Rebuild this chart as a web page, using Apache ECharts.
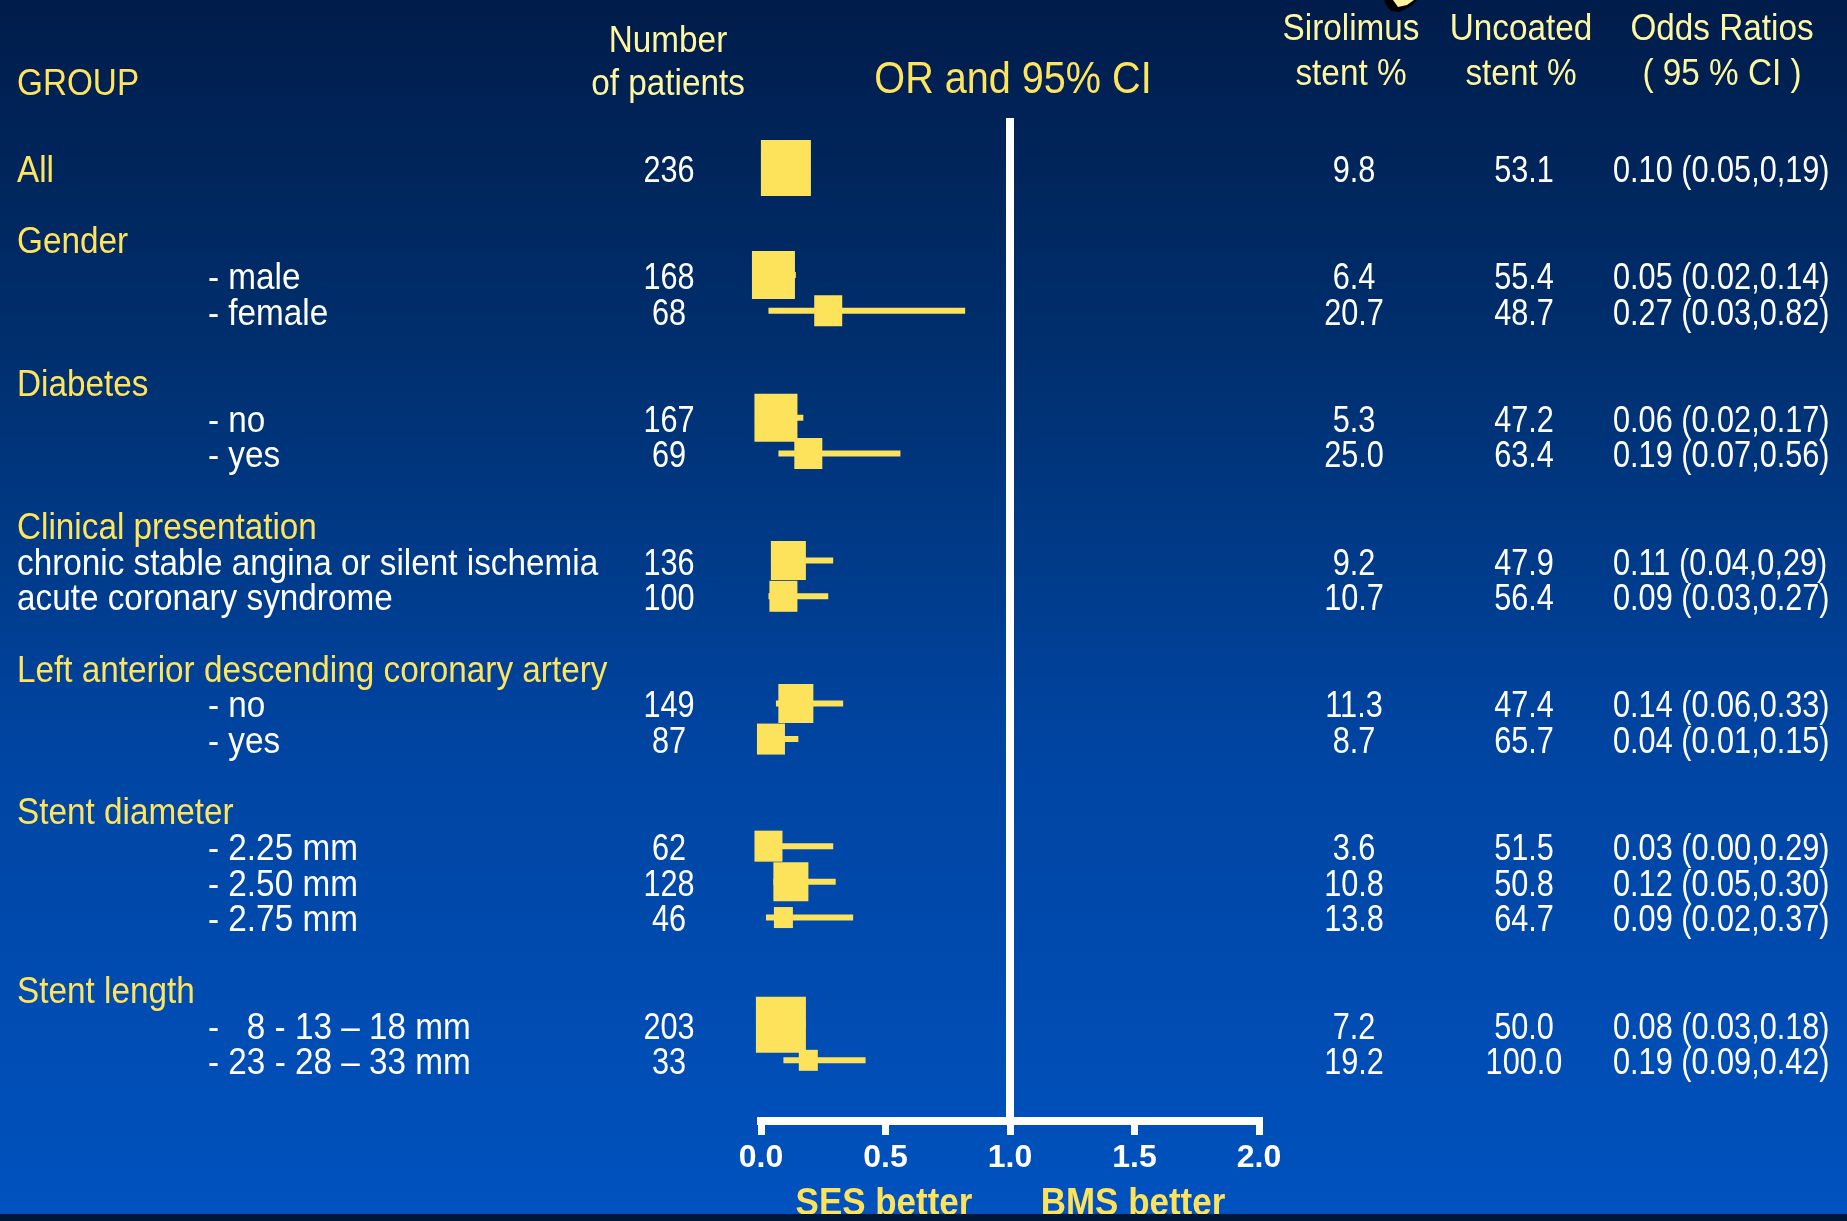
<!DOCTYPE html>
<html>
<head>
<meta charset="utf-8">
<title>Sirolimus vs uncoated stent – odds ratios by subgroup</title>
<script src="https://cdn.jsdelivr.net/npm/echarts@6/dist/echarts.min.js"></script>
<style>
  html, body { margin: 0; padding: 0; background: #002a66; }
  #chart { width: 1847px; height: 1221px; }
</style>
</head>
<body>
<div id="chart"></div>
<script>
// ---- data ----------------------------------------------------------------
const groupTitles = ['', 'Gender', 'Diabetes', 'Clinical presentation',
  'Left anterior descending coronary artery', 'Stent diameter', 'Stent length'];
const rowGroup = [0, 1, 1, 2, 2, 3, 3, 4, 4, 5, 5, 5, 6, 6];
const rowLabels = ['All', '- male', '- female', '- no', '- yes',
  'chronic stable angina or silent ischemia', 'acute coronary syndrome',
  '- no', '- yes', '- 2.25 mm', '- 2.50 mm', '- 2.75 mm',
  '-   8 - 13 \u2013 18 mm', '- 23 - 28 \u2013 33 mm'];
const patients = [236, 168, 68, 167, 69, 136, 100, 149, 87, 62, 128, 46, 203, 33];
const sirolimusPct = [9.8, 6.4, 20.7, 5.3, 25.0, 9.2, 10.7, 11.3, 8.7, 3.6, 10.8, 13.8, 7.2, 19.2];
const uncoatedPct = [53.1, 55.4, 48.7, 47.2, 63.4, 47.9, 56.4, 47.4, 65.7, 51.5, 50.8, 64.7, 50.0, 100.0];
const oddsRatio = [0.10, 0.05, 0.27, 0.06, 0.19, 0.11, 0.09, 0.14, 0.04, 0.03, 0.12, 0.09, 0.08, 0.19];
const ciLow = [0.05, 0.02, 0.03, 0.02, 0.07, 0.04, 0.03, 0.06, 0.01, 0.00, 0.05, 0.02, 0.03, 0.09];
const ciHigh = [0.19, 0.14, 0.82, 0.17, 0.56, 0.29, 0.27, 0.33, 0.15, 0.29, 0.30, 0.37, 0.18, 0.42];
const orLabels = ['0.10 (0.05,0,19)', '0.05 (0.02,0.14)', '0.27 (0.03,0.82)',
  '0.06 (0.02,0.17)', '0.19 (0.07,0.56)', '0.11 (0.04,0,29)',
  '0.09 (0.03,0.27)', '0.14 (0.06,0.33)', '0.04 (0.01,0.15)', '0.03 (0.00,0.29)',
  '0.12 (0.05,0.30)', '0.09 (0.02,0.37)', '0.08 (0.03,0.18)', '0.19 (0.09,0.42)'];
const axisTickValues = [0, 0.5, 1, 1.5, 2];

// ---- layout: one slot per text line, a blank slot between groups --------
const rowSlot = [];
const headerRows = [];
let slot = 0;
groupTitles.forEach((title, g) => {
  if (g > 0) slot += 1;
  if (title) headerRows.push([title, slot++]);
  rowGroup.forEach((rg, i) => { if (rg === g) rowSlot[i] = slot++; });
});

// ---- styles ----------------------------------------------------------------
const YELLOW = '#FDE25C';
const TITLE_YELLOW = '#FFE45E';
const PALE_YELLOW = '#FFF7A0';
const WHITE = '#FFFFFF';
const SANS = '"Liberation Sans", Arial, sans-serif';
const LABEL_FONT = '36px ' + SANS;
const LABEL_SX = 0.925;         // condensed look for the text columns
const NUM_FONT = '36px ' + SANS;
const NUM_SX = 0.852;
const DY = 4;                   // optical centring of text on its row

const COL_LABEL = 17, COL_INDENT = 208, COL_N = 669, COL_SES = 1354, COL_BMS = 1524, COL_OR = 1613;

// square size grows with the number of patients in the subgroup
function boxWidth(n) {
  if (n >= 200) return 50;
  if (n >= 160) return 43;
  if (n >= 120) return 35;
  if (n >= 50) return 28;
  return 19;
}

const chart = echarts.init(document.getElementById('chart'), null, { renderer: 'canvas' });

const forestData = oddsRatio.map((or, i) => [or, rowSlot[i], ciLow[i], ciHigh[i], patients[i]]);
const tableData = rowLabels.map((lab, i) => [0, rowSlot[i], i]);
const headerData = headerRows.map(([t, s], i) => [0, s, i]);

function textEl(x, y, text, font, fill, align, sx) {
  return { type: 'text', x: x, y: y + DY, scaleX: sx || 1,
    style: { text: text, font: font, fill: fill, align: align || 'left', verticalAlign: 'middle' } };
}
function headEl(x, y, text, font, fill, align, sx) {
  const el = textEl(x, y, text, font, fill, align, sx);
  el.z = 5;
  return el;
}

const option = {
  animation: false,
  graphic: [
    { type: 'rect', z: -10, shape: { x: 0, y: 0, width: 1847, height: 1221 },
      style: { fill: new echarts.graphic.LinearGradient(0, 0, 0, 1, [
        { offset: 0, color: '#001C4A' },
        { offset: 0.3, color: '#003070' },
        { offset: 0.6, color: '#0044A0' },
        { offset: 1, color: '#0052BF' }]) } },
    // column headings
    headEl(COL_LABEL, 81, 'GROUP', LABEL_FONT, TITLE_YELLOW, 'left', LABEL_SX),
    headEl(668, 38, 'Number', LABEL_FONT, PALE_YELLOW, 'center', LABEL_SX),
    headEl(668, 81, 'of patients', LABEL_FONT, PALE_YELLOW, 'center', LABEL_SX),
    headEl(1013, 77, 'OR and 95% CI', '44px ' + SANS, TITLE_YELLOW, 'center', 0.9),
    headEl(1351, 26, 'Sirolimus', LABEL_FONT, PALE_YELLOW, 'center', LABEL_SX),
    headEl(1351, 71, 'stent %', LABEL_FONT, PALE_YELLOW, 'center', LABEL_SX),
    headEl(1521, 26, 'Uncoated', LABEL_FONT, PALE_YELLOW, 'center', LABEL_SX),
    headEl(1521, 71, 'stent %', LABEL_FONT, PALE_YELLOW, 'center', LABEL_SX),
    headEl(1722, 26, 'Odds Ratios', LABEL_FONT, PALE_YELLOW, 'center', LABEL_SX),
    headEl(1722, 71, '( 95 % CI )', LABEL_FONT, PALE_YELLOW, 'center', LABEL_SX),
    // direction captions under the axis
    headEl(884, 1201, 'SES better', 'bold 38px ' + SANS, YELLOW, 'center', 0.92),
    headEl(1133, 1201, 'BMS better', 'bold 38px ' + SANS, YELLOW, 'center', 0.92),
    // footer band
    { type: 'rect', z: 50, shape: { x: 0, y: 1214, width: 1847, height: 7 }, style: { fill: '#00173A' } },
    // small ornament at the top edge
    { type: 'polygon', z: 6, shape: { points: [[1384, 0], [1417, 0], [1411, 6], [1400, 12], [1391, 11], [1386, 5]] }, style: { fill: '#000000' } },
    { type: 'polygon', z: 7, shape: { points: [[1393, 0], [1414, 0], [1407, 5], [1398, 7]] }, style: { fill: '#FFF3A0' } }
  ],
  grid: { left: 761, width: 498, top: 118, height: 1003 },
  xAxis: {
    type: 'value', min: 0, max: 2, interval: 0.5,
    axisLine: { show: true, onZero: false, lineStyle: { color: WHITE, width: 8, cap: 'square' } },
    axisTick: { show: true, length: 14, lineStyle: { color: WHITE, width: 7 } },
    axisLabel: { color: WHITE, fontFamily: SANS, fontWeight: 'bold', fontSize: 32, margin: 21,
      formatter: v => axisTickValues.indexOf(v) >= 0 ? v.toFixed(1) : '' },
    splitLine: { show: false }
  },
  yAxis: { type: 'value', inverse: true, min: -1.4, max: 26.7, show: false },
  series: [
    { // reference line at OR = 1
      type: 'line', symbol: 'none', silent: true, z: 3,
      data: [[1, -1.4], [1, 26.7]],
      lineStyle: { color: WHITE, width: 8 }
    },
    { // confidence intervals and point estimates
      type: 'custom', z: 4, clip: false,
      data: forestData,
      encode: { x: [0, 2, 3], y: 1 },
      renderItem: (params, api) => {
        const y = api.coord([0, api.value(1)])[1];
        const xEst = api.coord([api.value(0), 0])[0];
        const xLo = api.coord([api.value(2), 0])[0];
        const xHi = api.coord([api.value(3), 0])[0];
        const w = boxWidth(api.value(4));
        const h = Math.round(w * 1.11);
        return { type: 'group', children: [
          { type: 'rect', shape: { x: xLo, y: y - 3, width: xHi - xLo, height: 6 }, style: { fill: YELLOW } },
          { type: 'rect', shape: { x: xEst - w / 2, y: y - h / 2, width: w, height: h }, style: { fill: YELLOW } }
        ] };
      }
    },
    { // table rows: subgroup, patients, event rates, odds ratio text
      type: 'custom', z: 5, clip: false, silent: true,
      data: tableData,
      encode: { y: 1 },
      renderItem: (params, api) => {
        const i = api.value(2);
        const y = api.coord([0, api.value(1)])[1];
        const label = rowLabels[i];
        const indented = label.charAt(0) === '-';
        const labelColor = rowGroup[i] === 0 ? TITLE_YELLOW : WHITE;
        return { type: 'group', children: [
          textEl(indented ? COL_INDENT : COL_LABEL, y, label, LABEL_FONT, labelColor, 'left', LABEL_SX),
          textEl(COL_N, y, String(patients[i]), NUM_FONT, WHITE, 'center', NUM_SX),
          textEl(COL_SES, y, sirolimusPct[i].toFixed(1), NUM_FONT, WHITE, 'center', NUM_SX),
          textEl(COL_BMS, y, uncoatedPct[i].toFixed(1), NUM_FONT, WHITE, 'center', NUM_SX),
          textEl(COL_OR, y, orLabels[i], NUM_FONT, WHITE, 'left', NUM_SX)
        ] };
      }
    },
    { // subgroup headings
      type: 'custom', z: 5, clip: false, silent: true,
      data: headerData,
      encode: { y: 1 },
      renderItem: (params, api) => {
        const y = api.coord([0, api.value(1)])[1];
        return textEl(COL_LABEL, y, headerRows[api.value(2)][0], LABEL_FONT, TITLE_YELLOW, 'left', LABEL_SX);
      }
    }
  ]
};

chart.setOption(option);
</script>
</body>
</html>
